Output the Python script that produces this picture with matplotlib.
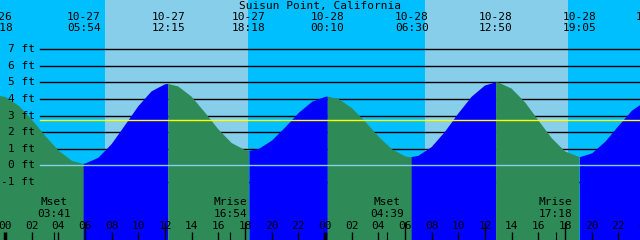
import matplotlib
matplotlib.use("Agg")
import matplotlib.pyplot as plt

title = "Suisun Point, California"

# tide extremes, hours counted from 10-27 00:00
event_hours = [-0.7, 5.9, 12.25, 18.3, 24.17, 30.5, 36.83, 43.08, 48.56]
event_ft = [4.25, 0.1, 4.9, 0.9, 4.17, 0.5, 5.0, 0.52, 3.97]
event_dates = ["10-26", "10-27", "10-27", "10-27", "10-28", "10-28", "10-28", "10-28", "10-29"]
event_times = ["23:18", "05:54", "12:15", "18:18", "00:10", "06:30", "12:50", "19:05", "00:34"]

# water level
hours = list(range(-1, 49))
level_ft = [4.24, 4.14, 3.61, 2.76, 1.78, 0.90, 0.29, 0.10, 0.45, 1.28,
            2.41, 3.56, 4.46, 4.88, 4.75, 4.13, 3.18, 2.17, 1.34, 0.92,
            1.01, 1.53, 2.33, 3.19, 3.86, 4.16, 4.02, 3.46, 2.64, 1.74,
            0.99, 0.56, 0.57, 1.10, 2.02, 3.12, 4.13, 4.81, 4.99, 4.62,
            3.80, 2.71, 1.64, 0.84, 0.52, 0.75, 1.46, 2.42, 3.33, 3.88]

# daylight
sunrise_hours = [7.5, 31.5]
sunset_hours = [18.23, 42.2]

# moon events
moon_hours = [3.68, 16.9, 28.65, 41.3]
moon_names = ["Mset", "Mrise", "Mset", "Mrise"]
moon_times = ["03:41", "16:54", "04:39", "17:18"]

depth_ft = [-1, 0, 1, 2, 3, 4, 5, 6, 7]
mean_level_ft = 2.73
hour_ticks = list(range(0, 49, 2))

NIGHT = "#00BFFF"
DAY = "#87CEEB"
FALLING = "#2E8B57"
RISING = "#0000FF"
FONT = dict(family="DejaVu Sans Mono", fontsize=8, color="black")

fig = plt.figure(figsize=(6.4, 2.4), dpi=100)
fig.patch.set_facecolor(NIGHT)
ax = fig.add_axes([0, 0, 1, 1])
ax.set_facecolor(NIGHT)
ax.set_xlim(-0.375, 47.625)
ax.set_ylim(-4.5, 9.96)
ax.set_xticks([])
ax.set_yticks([])
for spine in ax.spines.values():
    spine.set_visible(False)

for rise, sset in zip(sunrise_hours, sunset_hours):
    ax.axvspan(rise, sset, color=DAY, lw=0, zorder=0)

for d in depth_ft:
    if d != 0:
        ax.axhline(d, xmin=40 / 640, color="black", lw=1, zorder=1)

# merge the hourly readings with the extremes so peaks keep their height
pts = sorted(zip(hours + event_hours, level_ft + event_ft))
t_all = [p[0] for p in pts]
h_all = [p[1] for p in pts]

for i in range(len(event_hours) - 1):
    t0, t1 = event_hours[i], event_hours[i + 1]
    seg = [(t, h) for t, h in zip(t_all, h_all) if t0 <= t <= t1]
    color = RISING if event_ft[i + 1] > event_ft[i] else FALLING
    ax.fill_between([s[0] for s in seg], [s[1] for s in seg], -10,
                    color=color, lw=0, zorder=2)

ax.axhline(0, xmin=40 / 640, color=DAY, lw=1, zorder=3)
ax.axhline(mean_level_ft, xmin=40 / 640, color="yellow", lw=1, zorder=3)

# depth labels
ylab = ax.get_yaxis_transform()
for d in depth_ft:
    ax.text(35 / 640, d, f"{d} ft", transform=ylab, ha="right", va="center",
            zorder=5, **FONT)

# event labels along the top
xlab = ax.get_xaxis_transform()
ax.text(0.5, 1 - 6 / 240, title, transform=ax.transAxes, ha="center",
        va="center", zorder=5, **FONT)
for t, d, tm in zip(event_hours, event_dates, event_times):
    ax.text(t, 1 - 17 / 240, d, transform=xlab, ha="center", va="center", zorder=5, **FONT)
    if t < 48:
        ax.text(t, 1 - 28 / 240, tm, transform=xlab, ha="center", va="center", zorder=5, **FONT)

# moon events
for t, name, tm in zip(moon_hours, moon_names, moon_times):
    ax.text(t, 1 - 202 / 240, name, transform=xlab, ha="center", va="center", zorder=5, **FONT)
    ax.text(t, 1 - 214 / 240, tm, transform=xlab, ha="center", va="center", zorder=5, **FONT)
    ax.vlines(t, 0, 8 / 240, transform=xlab, color="black", lw=0.8, zorder=5)

# hour ticks
for t in hour_ticks:
    ax.text(t, 1 - 226 / 240, f"{t % 24:02d}", transform=xlab, ha="center",
            va="center", zorder=5, **FONT)
    if t % 24 == 0:
        ax.vlines(t, 0, 8 / 240, transform=xlab, color="black", lw=2.5, zorder=5)
    elif t % 6 == 0:
        ax.vlines(t, 0, 18 / 240, transform=xlab, color="black", lw=1, zorder=5)
    else:
        ax.vlines(t, 0, 8 / 240, transform=xlab, color="black", lw=1, zorder=5)

fig.savefig("out.png", dpi=100, facecolor=NIGHT)
